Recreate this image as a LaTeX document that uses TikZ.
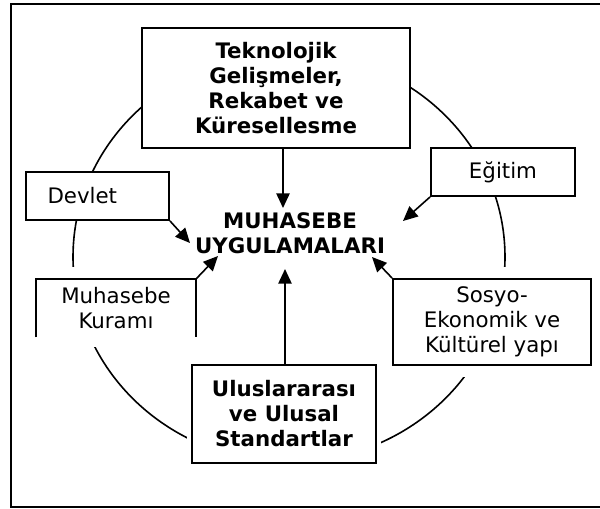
\documentclass[tikz,border=0pt]{standalone}
\usepackage{fontspec}
\setmainfont{DejaVu Sans}
\usetikzlibrary{arrows.meta}
\tikzset{
  box/.style={draw,line width=1.4pt,fill=white,align=center,inner sep=3pt},
  arr/.style={line width=1.2pt,-{Triangle[length=11pt,width=10pt]}},
}
\begin{document}
\fontsize{16}{18.75}\selectfont
\begin{tikzpicture}[x=0.75pt,y=-0.75pt]
        \useasboundingbox (0,0) rectangle (600,508);
        %% frame
        \draw[line width=1.4pt] (620,4) -- (11,4) -- (11,507) -- (620,507);
        %% ring
        \draw[line width=1.2pt] (289,257) ellipse (216 and 205);
        \fill[white] (30,267) rectangle (202,347);
        \fill[white] (390,267) rectangle (595,377);
        \fill[white] (187,362) rectangle (381,466);
        %% factors
        \node[box,minimum width=201pt,minimum height=90pt,font=\bfseries] (tech) at (276,88)
            {Teknolojik\\Gelişmeler,\\Rekabet ve\\Küresellesme};
        \node[box,minimum width=107.25pt,minimum height=36pt,align=left,text width=75pt,inner xsep=15.75pt] (devlet) at (97.5,196) {Devlet};
        \node[box,minimum width=108pt,minimum height=36pt] (egitim) at (503,172) {Eğitim};
        \node[align=center,minimum width=120pt,minimum height=43.5pt] (kuram) at (116,308) {Muhasebe\\Kuramı};
        \draw[line width=1.4pt] (kuram.south west) -- (kuram.north west) -- (kuram.north east) -- (kuram.south east);
        \node[box,minimum width=148.5pt,minimum height=64.5pt] (sosyo) at (492,322) {Sosyo-\\Ekonomik ve\\Kültürel yapı};
        \node[box,minimum width=138pt,minimum height=73.5pt,font=\bfseries] (ulus) at (284,414) {Uluslararası\\ve Ulusal\\Standartlar};
        %% centre
        \node[align=center,font=\bfseries] (core) at (290,233) {MUHASEBE\\UYGULAMALARI};
        \coordinate (tipT) at (283,208);
        \coordinate (tipD) at (190,243);
        \coordinate (tipE) at (403,221);
        \coordinate (tipK) at (218,256);
        \coordinate (tipS) at (372,257);
        \coordinate (tipU) at (285,269);
        %% influences
        \draw[arr] (tech.south -| tipT) -- (tipT);
        \draw[arr] (devlet.south east) -- (tipD);
        \draw[arr] (egitim.south west) -- (tipE);
        \draw[arr] (kuram.north east) -- (tipK);
        \draw[arr] (sosyo.north west) -- (tipS);
        \draw[arr] (ulus.north -| tipU) -- (tipU);
\end{tikzpicture}
\end{document}
